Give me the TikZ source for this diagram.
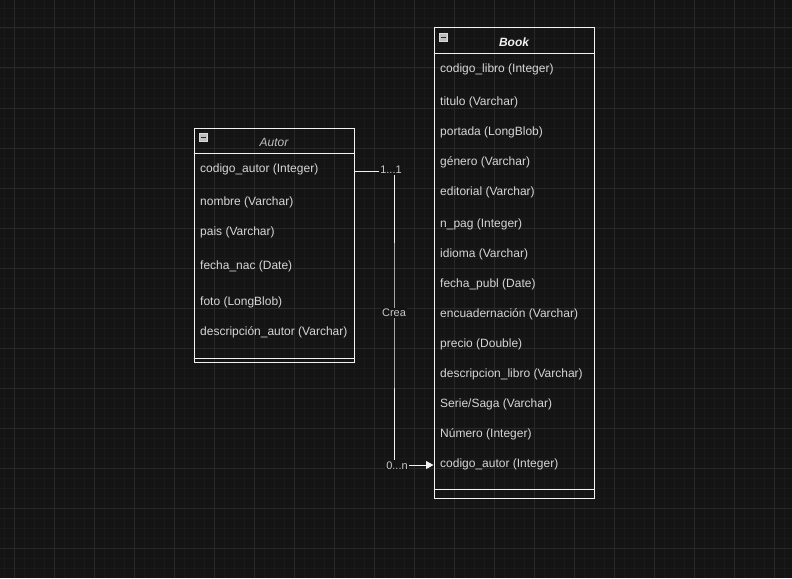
\documentclass[tikz,border=0pt]{standalone}
\usepackage{fontspec}
\setmainfont{Liberation Sans}
\usetikzlibrary{arrows.meta}

\definecolor{canvas}{HTML}{141414}
\definecolor{gridminor}{HTML}{1A1A1A}
\definecolor{gridmajor}{HTML}{282828}
\definecolor{strokec}{HTML}{F2F2F2}
\definecolor{rowtext}{HTML}{D6D6D6}
\definecolor{labeltext}{HTML}{C8C8C8}
\definecolor{titlegray}{HTML}{BDBDBD}
\definecolor{iconfill}{HTML}{BEBEBE}
\definecolor{iconedge}{HTML}{DADADA}

\tikzset{
  minorline/.style={draw=gridminor, line width=0.8pt},
  majorline/.style={draw=gridmajor, line width=1pt},
  entity/.style={draw=strokec, line width=1pt, minimum width=160pt, inner sep=0pt},
  divider/.style={draw=strokec, line width=1pt},
  rowlabel/.style={anchor=base west, inner sep=0pt, text=rowtext,
    font=\fontsize{12}{14}\selectfont},
  titlelabel/.style={inner sep=0pt, font=\fontsize{12}{14}\selectfont\itshape},
  edgelabel/.style={fill=canvas, inner sep=1.5pt, text=labeltext,
    font=\fontsize{11}{13}\selectfont},
  relation/.style={draw=strokec, line width=1pt},
  collapseicon/.style={fill=iconfill, draw=iconedge, line width=0.6pt}
}

\begin{document}
\begin{tikzpicture}[x=1pt, y=-1pt]
  % canvas and grid
  \fill[canvas] (0,0) rectangle (792,578);
  \useasboundingbox (0,0) rectangle (792,578);
  \foreach \gx in {4,14,...,784} \draw[minorline] (\gx,0) -- (\gx,578);
  \foreach \gy in {8,18,...,568} \draw[minorline] (0,\gy) -- (792,\gy);
  \foreach \gx in {14,54,...,774} \draw[majorline] (\gx,0) -- (\gx,578);
  \foreach \gy in {28,68,...,548} \draw[majorline] (0,\gy) -- (792,\gy);

  % entity: Autor
  \node[entity, minimum height=234pt] (autor) at (274,245) {};
  \draw[divider] ([yshift=-26pt]autor.north west) -- ([yshift=-26pt]autor.north east);
  \draw[divider] ([yshift=4pt]autor.south west) -- ([yshift=4pt]autor.south east);
  \draw[collapseicon] (199.5,133.5) rectangle (207.5,141.5);
  \draw[draw=black!85, line width=1.4pt] (201.3,137.5) -- (205.7,137.5);
  \node[titlelabel, text=titlegray] (autortitle) at (274,142.5) {Autor};
  \node[rowlabel] (a1) at (200,172.5) {codigo\_autor (Integer)};
  \node[rowlabel] (a2) at (200,205.5) {nombre (Varchar)};
  \node[rowlabel] (a3) at (200,235.5) {pais (Varchar)};
  \node[rowlabel] (a4) at (200,269.5) {fecha\_nac (Date)};
  \node[rowlabel] (a5) at (200,305.5) {foto (LongBlob)};
  \node[rowlabel] (a6) at (200,335.5) {descripción\_autor (Varchar)};

  % entity: Book
  \node[entity, minimum height=470pt] (book) at (514,263) {};
  \draw[divider] ([yshift=-26pt]book.north west) -- ([yshift=-26pt]book.north east);
  \draw[divider] ([yshift=9pt]book.south west) -- ([yshift=9pt]book.south east);
  \draw[collapseicon] (439.5,33.5) rectangle (447.5,41.5);
  \draw[draw=black!85, line width=1.4pt] (441.3,37.5) -- (445.7,37.5);
  \node[titlelabel, text=strokec, font=\fontsize{12}{14}\selectfont\itshape\bfseries] (booktitle) at (514,42.5) {Book};
  \node[rowlabel] (b1)  at (440,72.5)  {codigo\_libro (Integer)};
  \node[rowlabel] (b2)  at (440,105.5) {titulo (Varchar)};
  \node[rowlabel] (b3)  at (440,135.5) {portada (LongBlob)};
  \node[rowlabel] (b4)  at (440,165.5) {género (Varchar)};
  \node[rowlabel] (b5)  at (440,195.5) {editorial (Varchar)};
  \node[rowlabel] (b6)  at (440,227.5) {n\_pag (Integer)};
  \node[rowlabel] (b7)  at (440,257.5) {idioma (Varchar)};
  \node[rowlabel] (b8)  at (440,287.5) {fecha\_publ (Date)};
  \node[rowlabel] (b9)  at (440,317.5) {encuadernación (Varchar)};
  \node[rowlabel] (b10) at (440,347.5) {precio (Double)};
  \node[rowlabel] (b11) at (440,377.5) {descripcion\_libro (Varchar)};
  \node[rowlabel] (b12) at (440,407.5) {Serie/Saga (Varchar)};
  \node[rowlabel] (b13) at (440,437.5) {Número (Integer)};
  \node[rowlabel] (b14) at (440,467.5) {codigo\_autor (Integer)};

  % relationship Autor 1..1 -- 0..n Book
  \coordinate (creapos) at (394,313);
  \draw[relation, -{Triangle[length=7.5pt, width=8pt]}]
    ([yshift=1pt]autor.east |- a1.base) -| (creapos) |- ([yshift=2.5pt]book.west |- b14.base);
  \node[edgelabel] (srcmult) at (391,169.5) {1...1};
  \node[edgelabel] (crea) at (creapos) {Crea};
  \node[edgelabel] (dstmult) at (397,465.5) {0...n};
\end{tikzpicture}
\end{document}
